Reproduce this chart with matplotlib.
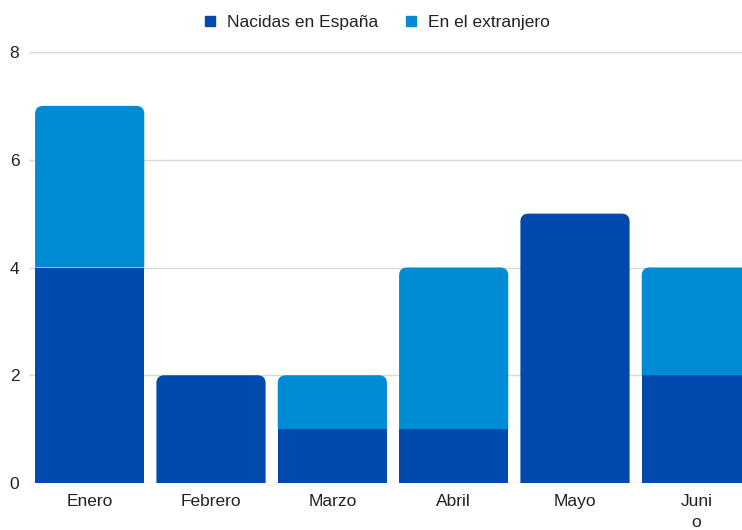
import numpy as np
import matplotlib
matplotlib.use("Agg")
import matplotlib.pyplot as plt
from matplotlib.path import Path
from matplotlib.patches import PathPatch
from matplotlib.lines import Line2D

plt.rcParams['font.family'] = ['Liberation Sans', 'DejaVu Sans']

# datos
meses = ["Enero", "Febrero", "Marzo", "Abril", "Mayo", "Juni\no"]
espana = [4, 2, 1, 1, 5, 2]
extranjero = [3, 0, 1, 3, 0, 2]
yticks = [0, 2, 4, 6, 8]

oscuro = "#004aad"
claro = "#008cd4"

fig = plt.figure(figsize=(7.42, 5.30), dpi=100)
ax = fig.add_axes([29 / 742, 47 / 530, (757 - 29) / 742, 431 / 530])

x = np.arange(len(meses))
b1 = ax.bar(x, espana, 0.9, color=oscuro, zorder=2)
b2 = ax.bar(x, extranjero, 0.9, bottom=espana, color=claro, zorder=2)

ax.set_xlim(-0.5, len(meses) - 0.5)
ax.set_ylim(0, 8)
ax.set_yticks(yticks)
ax.set_xticks(x)
ax.set_xticklabels(meses, fontsize=12.5, color="#222222", linespacing=1.45)
ax.tick_params(axis='y', labelsize=12.5, labelcolor="#222222", length=0, pad=7)
ax.tick_params(axis='x', length=0, pad=8)
for s in ax.spines.values():
    s.set_visible(False)
ax.grid(axis='y', color="#d9d9d9", linewidth=1, zorder=0)
ax.set_axisbelow(True)

# esquinas redondeadas arriba
fig.canvas.draw()
t = ax.transData
sx = t.transform((1, 0))[0] - t.transform((0, 0))[0]
sy = t.transform((0, 1))[1] - t.transform((0, 0))[1]
r = 8
rx, ry = r / sx, r / sy
for i in range(len(meses)):
    p = b2[i] if extranjero[i] > 0 else b1[i]
    x0, y0 = p.get_x(), p.get_y()
    x1, y1 = x0 + p.get_width(), y0 + p.get_height()
    verts = [(x0, y0), (x0, y1 - ry), (x0, y1), (x0 + rx, y1),
             (x1 - rx, y1), (x1, y1), (x1, y1 - ry), (x1, y0), (x0, y0)]
    codes = [Path.MOVETO, Path.LINETO, Path.CURVE3, Path.CURVE3,
             Path.LINETO, Path.CURVE3, Path.CURVE3, Path.LINETO, Path.CLOSEPOLY]
    p.set_visible(False)
    ax.add_patch(PathPatch(Path(verts, codes), facecolor=p.get_facecolor(),
                           edgecolor='none', zorder=2))

handles = [Line2D([], [], marker='s', linestyle='none', color=oscuro, markersize=7.5),
           Line2D([], [], marker='s', linestyle='none', color=claro, markersize=7.5)]
fig.legend(handles, ["Nacidas en España", "En el extranjero"], loc='center',
           bbox_to_anchor=(0.506, 0.958), ncol=2, frameon=False, fontsize=12.5,
           handlelength=1.0, handletextpad=0.5, columnspacing=1.37,
           labelcolor="#222222")

fig.savefig("out.png", dpi=100)
